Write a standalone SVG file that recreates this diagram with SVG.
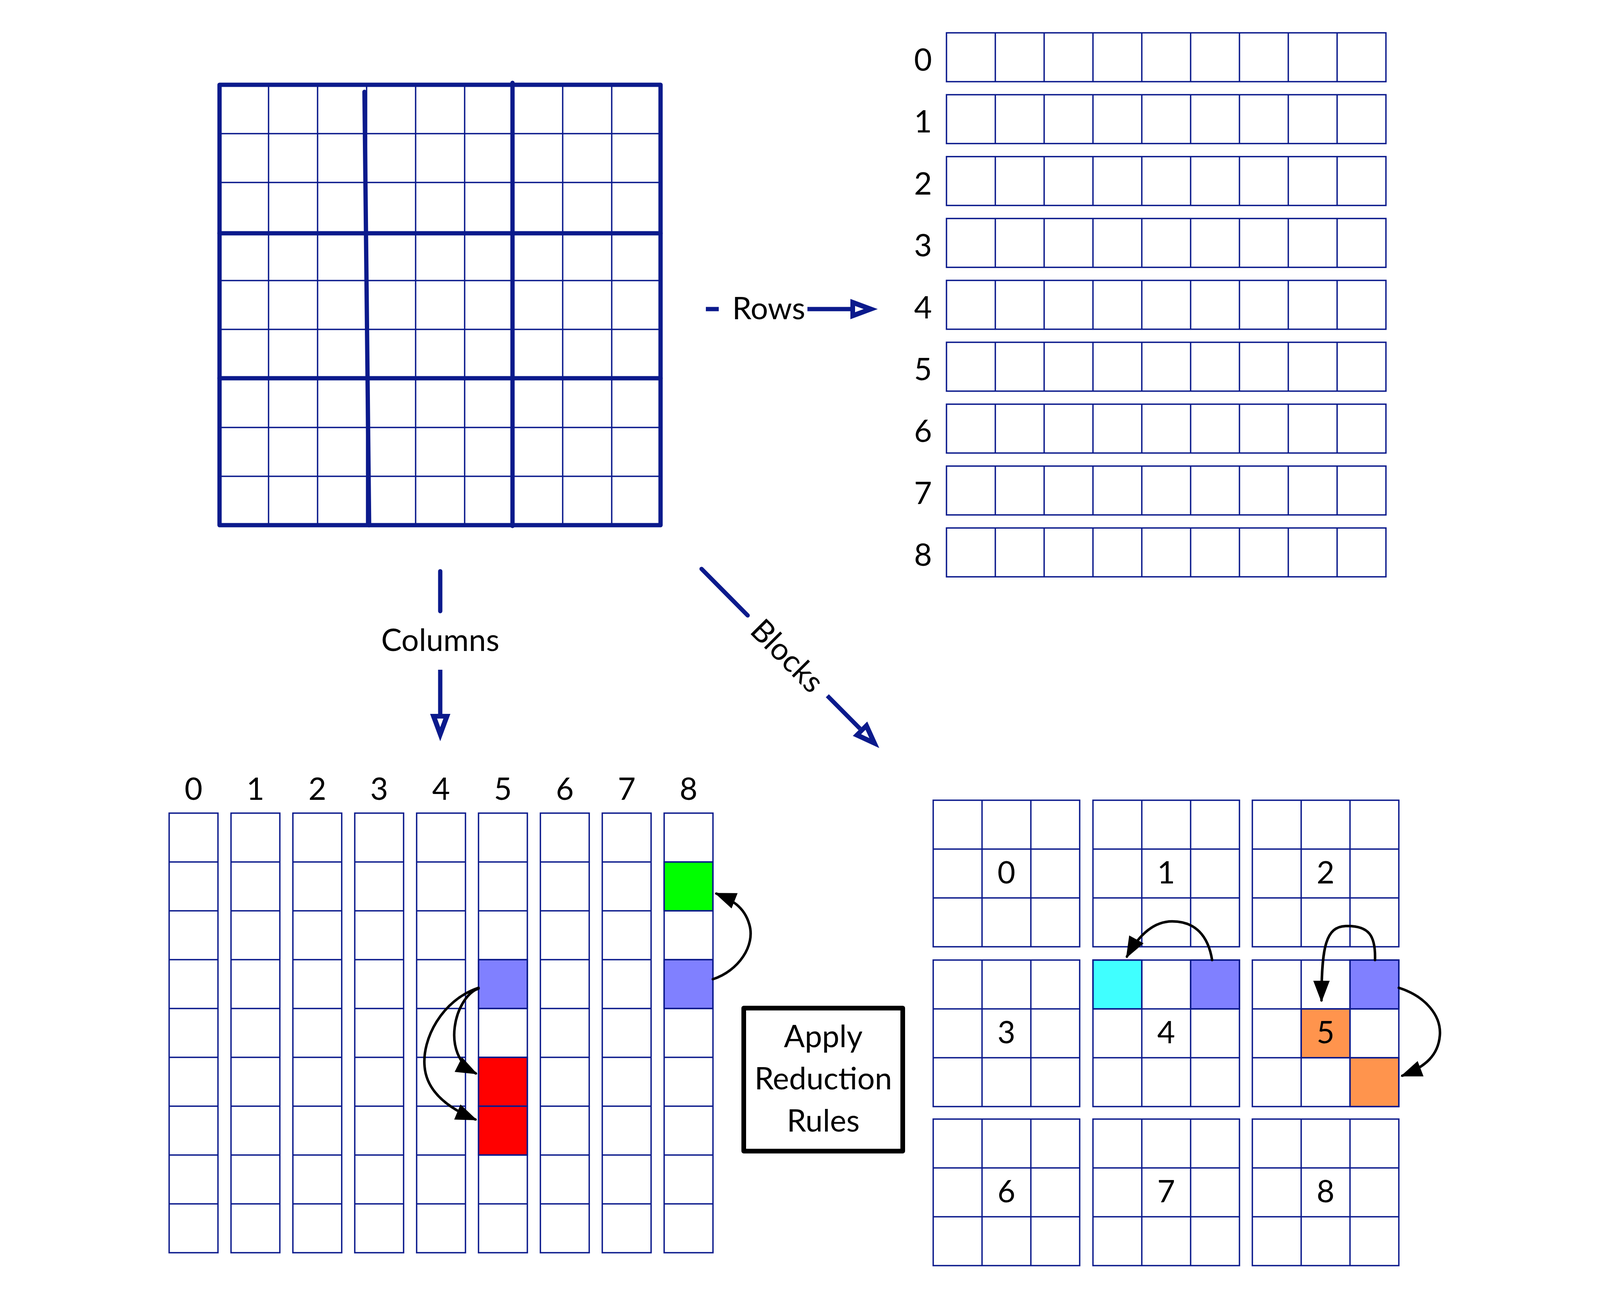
<svg xmlns="http://www.w3.org/2000/svg" xmlns:xlink="http://www.w3.org/1999/xlink" width="4387" height="3304" viewBox="0 0 4387 3304">
<style>
.bl{stroke:#0b1a8c;fill:none}
.thin{stroke-width:3.5}
.thick{stroke-width:11;stroke-linecap:round;stroke-linejoin:round}
.cellc{stroke:#0b1a8c;stroke-width:3.5}
.t{font-family:Lato,"Noto Sans","Open Sans",sans-serif;font-size:79px;fill:#000}
.mid{text-anchor:middle}
.blk{stroke:#000;stroke-width:6.5;fill:none;stroke-linecap:round}
.blu{stroke:#0b1a8c;stroke-width:11;fill:none}
</style>
<defs>
<marker id="ah" markerUnits="userSpaceOnUse" viewBox="0 -25 56 50" markerWidth="56" markerHeight="50" refX="50" refY="0" orient="auto" overflow="visible">
<path d="M0,-21 L55,0 L0,21 Z" fill="#000"/>
</marker>
<marker id="oh" markerUnits="userSpaceOnUse" viewBox="0 -27 72 54" markerWidth="72" markerHeight="54" refX="0" refY="0" orient="auto" overflow="visible">
<path d="M0,-26 L70,0 L0,26 Z" fill="#0b1a8c"/>
<path d="M12,-8 L34,0 L12,8 Z" fill="#fff"/>
</marker>
<g id="row9" class="bl thin">
<rect x="0" y="0" width="1125" height="125"/>
<path d="M125,0V125M250,0V125M375,0V125M500,0V125M625,0V125M750,0V125M875,0V125M1000,0V125"/>
</g>
<g id="col9" class="bl thin">
<rect x="0" y="0" width="125" height="1125"/>
<path d="M0,125H125M0,250H125M0,375H125M0,500H125M0,625H125M0,750H125M0,875H125M0,1000H125"/>
</g>
<g id="blk9" class="bl thin">
<rect x="0" y="0" width="375" height="375"/>
<path d="M125,0V375M250,0V375M0,125H375M0,250H375"/>
</g>
</defs>
<rect width="4387" height="3304" fill="#fff"/>

<g id="sudoku-grid">
<path class="bl thin" d="M687.5,217V1344M813,217V1344M938.5,217V1344M1064,217V1344M1189.5,217V1344M1440.5,217V1344M1566,217V1344M562,342H1691M562,467H1691M562,718H1691M562,843H1691M562,1094H1691M562,1219H1691"/>
<path class="bl thick" d="M562,217H1691V1344H562Z"/>
<path class="bl thick" d="M562,597H1691M562,968H1691M1312,212V1346M933,235L945,1344"/>
</g>

<g id="rows">
<g id="row0"><use xlink:href="#row9" x="2423" y="84"/><text class="t mid" x="2363" y="181">0</text></g>
<g id="row1"><use xlink:href="#row9" x="2423" y="242.4"/><text class="t mid" x="2363" y="339.4">1</text></g>
<g id="row2"><use xlink:href="#row9" x="2423" y="400.8"/><text class="t mid" x="2363" y="497.8">2</text></g>
<g id="row3"><use xlink:href="#row9" x="2423" y="559.2"/><text class="t mid" x="2363" y="656.2">3</text></g>
<g id="row4"><use xlink:href="#row9" x="2423" y="717.6"/><text class="t mid" x="2363" y="814.6">4</text></g>
<g id="row5"><use xlink:href="#row9" x="2423" y="876"/><text class="t mid" x="2363" y="973">5</text></g>
<g id="row6"><use xlink:href="#row9" x="2423" y="1034.4"/><text class="t mid" x="2363" y="1131.4">6</text></g>
<g id="row7"><use xlink:href="#row9" x="2423" y="1192.8"/><text class="t mid" x="2363" y="1289.8">7</text></g>
<g id="row8"><use xlink:href="#row9" x="2423" y="1351.2"/><text class="t mid" x="2363" y="1448.2">8</text></g>
</g>

<g id="columns">
<g id="column0"><use xlink:href="#col9" x="433" y="2081"/><text class="t mid" x="495.5" y="2047">0</text></g>
<g id="column1"><use xlink:href="#col9" x="591.4" y="2081"/><text class="t mid" x="653.9" y="2047">1</text></g>
<g id="column2"><use xlink:href="#col9" x="749.8" y="2081"/><text class="t mid" x="812.3" y="2047">2</text></g>
<g id="column3"><use xlink:href="#col9" x="908.2" y="2081"/><text class="t mid" x="970.7" y="2047">3</text></g>
<g id="column4"><use xlink:href="#col9" x="1066.6" y="2081"/><text class="t mid" x="1129.1" y="2047">4</text></g>
<g id="column5">
<rect class="cellc" x="1225" y="2456" width="125" height="125" fill="#8080ff"/>
<rect class="cellc" x="1225" y="2706" width="125" height="125" fill="#ff0000"/>
<rect class="cellc" x="1225" y="2831" width="125" height="125" fill="#ff0000"/>
<use xlink:href="#col9" x="1225" y="2081"/><text class="t mid" x="1287.5" y="2047">5</text></g>
<g id="column6"><use xlink:href="#col9" x="1383.4" y="2081"/><text class="t mid" x="1445.9" y="2047">6</text></g>
<g id="column7"><use xlink:href="#col9" x="1541.8" y="2081"/><text class="t mid" x="1604.3" y="2047">7</text></g>
<g id="column8">
<rect class="cellc" x="1700.2" y="2206" width="125" height="125" fill="#00ff00"/>
<rect class="cellc" x="1700.2" y="2456" width="125" height="125" fill="#8080ff"/>
<use xlink:href="#col9" x="1700.2" y="2081"/><text class="t mid" x="1762.7" y="2047">8</text></g>
</g>

<g id="blocks">
<g id="block0"><use xlink:href="#blk9" x="2389" y="2048"/><text class="t mid" x="2576.5" y="2261">0</text></g>
<g id="block1"><use xlink:href="#blk9" x="2798" y="2048"/><text class="t mid" x="2985.5" y="2261">1</text></g>
<g id="block2"><use xlink:href="#blk9" x="3206" y="2048"/><text class="t mid" x="3393.5" y="2261">2</text></g>
<g id="block3"><use xlink:href="#blk9" x="2389" y="2457"/><text class="t mid" x="2576.5" y="2670">3</text></g>
<g id="block4">
<rect class="cellc" x="2798" y="2457" width="125" height="125" fill="#40ffff"/>
<rect class="cellc" x="3048" y="2457" width="125" height="125" fill="#8080ff"/>
<use xlink:href="#blk9" x="2798" y="2457"/><text class="t mid" x="2985.5" y="2670">4</text></g>
<g id="block5">
<rect class="cellc" x="3456" y="2457" width="125" height="125" fill="#8080ff"/>
<rect class="cellc" x="3331" y="2582" width="125" height="125" fill="#ff944d"/>
<rect class="cellc" x="3456" y="2707" width="125" height="125" fill="#ff944d"/>
<use xlink:href="#blk9" x="3206" y="2457"/><text class="t mid" x="3393.5" y="2670">5</text></g>
<g id="block6"><use xlink:href="#blk9" x="2389" y="2864"/><text class="t mid" x="2576.5" y="3077">6</text></g>
<g id="block7"><use xlink:href="#blk9" x="2798" y="2864"/><text class="t mid" x="2985.5" y="3077">7</text></g>
<g id="block8"><use xlink:href="#blk9" x="3206" y="2864"/><text class="t mid" x="3393.5" y="3077">8</text></g>
</g>

<g id="apply-box">
<rect x="1904" y="2580" width="407" height="366" fill="#fff" stroke="#000" stroke-width="12" stroke-linejoin="round"/>
<text class="t mid" x="2107.5" y="2680">Apply</text>
<text class="t mid" x="2107.5" y="2788">Reduction</text>
<text class="t mid" x="2107.5" y="2896">Rules</text>
</g>

<g id="connectors">
<g id="rows-arrow">
<path class="blu" d="M1807,791H1840"/>
<text class="t mid" x="1968" y="817">Rows</text>
<path class="blu" d="M2067,791H2177" marker-end="url(#oh)"/>
</g>
<g id="columns-arrow">
<path class="blu" d="M1127,1462V1564" stroke-linecap="round"/>
<text class="t mid" x="1127" y="1666">Columns</text>
<path class="blu" d="M1127,1714V1827" marker-end="url(#oh)"/>
</g>
<g id="blocks-arrow">
<path class="blu" d="M1796,1456L1914,1575" stroke-linecap="round"/>
<text class="t mid" transform="translate(2016,1678) rotate(45.2)" x="0" y="28">Blocks</text>
<path class="blu" d="M2118,1780.6L2201.7,1864.9" marker-end="url(#oh)"/>
</g>
<path class="blk" d="M1825,2506C1890,2485 1935,2420 1918,2365C1905,2320 1872,2302 1834,2287" marker-end="url(#ah)"/>
<path class="blk" d="M1225,2530C1165,2550 1125,2700 1218,2747" marker-end="url(#ah)"/>
<path class="blk" d="M1225,2528C1130,2560 1080,2660 1087,2730C1092,2790 1140,2833 1217,2865" marker-end="url(#ah)"/>
<path class="blk" d="M3103,2457C3093,2395 3060,2358 3001,2358C2955,2358 2917,2390 2885,2448" marker-end="url(#ah)"/>
<path class="blk" d="M3520,2457C3522,2395 3505,2368 3445,2370C3395,2372 3383,2420 3383,2560" marker-end="url(#ah)"/>
<path class="blk" d="M3581,2528C3650,2550 3690,2600 3686,2650C3682,2700 3650,2730 3590,2753" marker-end="url(#ah)"/>
</g>
</svg>
